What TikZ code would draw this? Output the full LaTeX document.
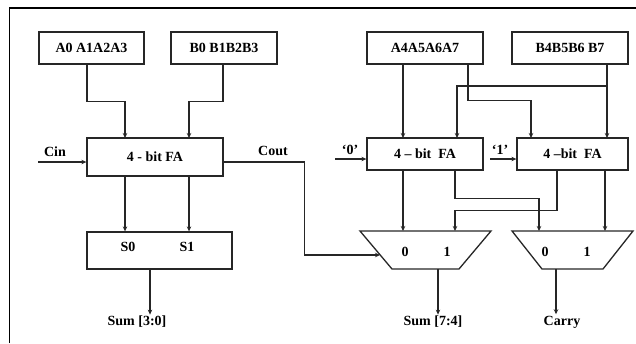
\documentclass[tikz,border=0pt]{standalone}
\usepackage{fontspec}
\setmainfont{Liberation Serif}
\usetikzlibrary{arrows.meta}

\begin{document}
\begin{tikzpicture}[x=1pt,y=-1pt,>={Stealth[length=5pt,width=4.5pt]},line width=1.2pt,
  draw=black!85,font=\bfseries\fontsize{14}{16}\selectfont,
  blk/.style={draw=black!85,line width=1.3pt,inner sep=0pt},
  lbl/.style={inner sep=1pt}]
\useasboundingbox (0,0) rectangle (636,343);
\draw[line width=1.6pt,black] (9.5,343) -- (9.5,8) -- (636,8);
% lower four bits
\node[blk,minimum width=105,minimum height=32] (a03) at (91.5,48) {A0 A1A2A3};
\node[blk,minimum width=106,minimum height=32] (b03) at (224,48) {B0 B1B2B3};
\node[blk,minimum width=136,minimum height=38] (fa03) at (155,157) {4 - bit FA};
\node[blk,minimum width=145,minimum height=37] (sbox) at (159.5,250.5) {};
\node[lbl] (s0) at (128,247) {S0};
\node[lbl] (s1) at (187,247) {S1};
\node[lbl] (sum03) at (137,322) {Sum [3:0]};
\node[lbl] (cinl) at (55,152) {Cin};
\node[lbl] (coutl) at (273,151) {Cout};
\coordinate (cin) at (38,162);
\coordinate (fa03a) at (125,138);
\coordinate (fa03b) at (189,138);
\draw[->] ([xshift=-4.5pt]a03.south) -- ++(0,37) -| (fa03a);
\draw[->] ([xshift=-1pt]b03.south) -- ++(0,37) -| (fa03b);
\draw[->] (cin) -- (cin -| fa03.west);
\draw[->] (fa03.south -| fa03a) -- (sbox.north -| fa03a);
\draw[->] (fa03.south -| fa03b) -- (sbox.north -| fa03b);
\draw[->] ([xshift=-9.5pt]sbox.south) -- ([xshift=-9.5pt]sbox.south |- sum03.north);
% upper four bits
\node[blk,minimum width=116,minimum height=32] (a47) at (425,48) {A4A5A6A7};
\node[blk,minimum width=116,minimum height=32] (b47) at (570,48) {B4B5B6 B7};
\node[blk,minimum width=116,minimum height=32] (fa0) at (425,154) {4 – bit\ \ FA};
\node[blk,minimum width=111,minimum height=32] (fa1) at (572.5,154) {4 –bit\ \ FA};
\node[lbl] (zero) at (350,150) {‘0’};
\node[lbl] (one) at (500,150) {‘1’};
\coordinate (zin) at (335,159);
\coordinate (oin) at (490,159);
\draw[->] (zin) -- (zin -| fa0.west);
\draw[->] (oin) -- (oin -| fa1.west);
\coordinate (fa0a) at (403,138);
\coordinate (fa0b) at (457,138);
\coordinate (fa1a) at (531,138);
\coordinate (fa1b) at (607,138);
\draw[->] (a47.south -| fa0a) -- (fa0a);
\draw[->] (b47.south -| fa1b) -- (fa1b);
\draw[->] (fa1b |- 0,86) -| (fa0b);
\draw[->] ([xshift=43pt]a47.south) -- ++(0,36) -| (fa1a);
% multiplexers
\coordinate (m0tl) at (360,231);
\coordinate (m0tr) at (491,231);
\coordinate (m0br) at (459,269);
\coordinate (m0bl) at (392,269);
\coordinate (m1tl) at (512,231);
\coordinate (m1tr) at (633,231);
\coordinate (m1br) at (603,269);
\coordinate (m1bl) at (542,269);
\draw[line width=1.3pt] (m0tl) -- (m0tr) -- (m0br) -- (m0bl) -- cycle;
\draw[line width=1.3pt] (m1tl) -- (m1tr) -- (m1br) -- (m1bl) -- cycle;
\node[lbl] (m0l0) at (405,252) {0};
\node[lbl] (m0l1) at (447,252) {1};
\node[lbl] (m1l0) at (545,252) {0};
\node[lbl] (m1l1) at (587,252) {1};
\coordinate (m0a) at (403,231);
\coordinate (m0b) at (455,231);
\coordinate (m1a) at (539,231);
\coordinate (m1b) at (605,231);
\draw[->] (fa0.south -| m0a) -- (m0a);
\draw[->] (fa0.south -| m0b) -- ++(0,28) -| (m1a);
\draw[->] ([xshift=-15.5pt]fa1.south) -- ++(0,40) -| (m0b);
\draw[->] (fa1.south -| m1b) -- (m1b);
\coordinate (coutin) at (380,255);
\draw[->] (fa03.east |- cin) -- ++(81,0) |- (coutin);
\node[lbl] (sum47) at (433,322) {Sum [7:4]};
\node[lbl] (carry) at (562,322) {Carry};
\coordinate (m0out) at (438,269);
\coordinate (m1out) at (556,269);
\draw[->] (m0out) -- (m0out |- sum47.north);
\draw[->] (m1out) -- (m1out |- carry.north);
\end{tikzpicture}
\end{document}
